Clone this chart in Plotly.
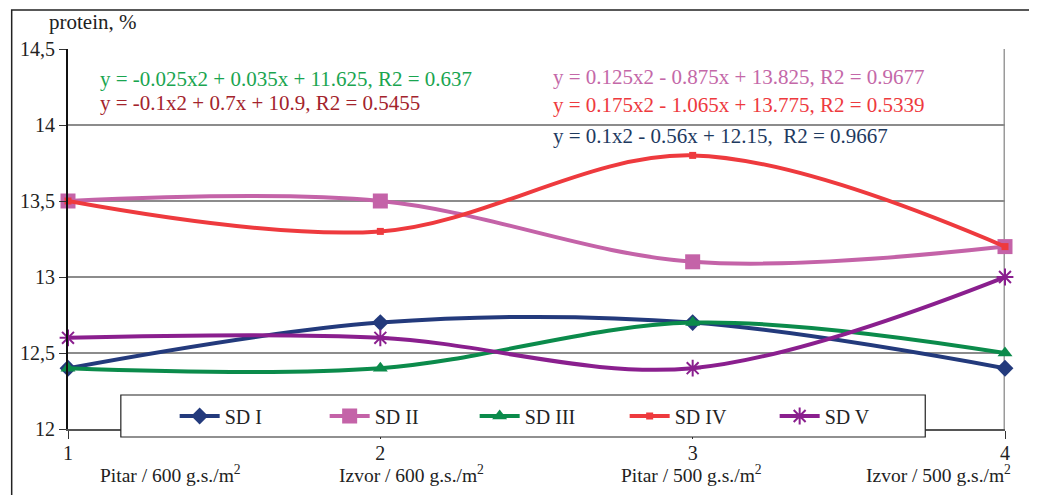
import plotly.graph_objects as go

x_vals = [1, 2, 3, 4]
series_names = ["SD I", "SD II", "SD III", "SD IV", "SD V"]
sd1 = [12.4, 12.7, 12.7, 12.4]
sd2 = [13.5, 13.5, 13.1, 13.2]
sd3 = [12.4, 12.4, 12.7, 12.5]
sd4 = [13.5, 13.3, 13.8, 13.2]
sd5 = [12.6, 12.6, 12.4, 13.0]
category_labels = ["Pitar / 600 g.s./m<sup>2</sup>", "Izvor / 600 g.s./m<sup>2</sup>",
                   "Pitar / 500 g.s./m<sup>2</sup>", "Izvor / 500 g.s./m<sup>2</sup>"]
y_ticks = [12, 12.5, 13, 13.5, 14, 14.5]
y_tick_text = ["12", "12,5", "13", "13,5", "14", "14,5"]
equations = [
    "y = -0.025x2 + 0.035x + 11.625, R2 = 0.637",
    "y = -0.1x2 + 0.7x + 10.9, R2 = 0.5455",
    "y = 0.125x2 - 0.875x + 13.825, R2 = 0.9677",
    "y = 0.175x2 - 1.065x + 13.775, R2 = 0.5339",
    "y = 0.1x2 - 0.56x + 12.15,  R2 = 0.9667",
]

FONT = "Liberation Serif, Times New Roman, DejaVu Serif, serif"
colors = ["#233a7c", "#c463a8", "#0b8b4b", "#ee3a3e", "#8a1f8e"]
symbols = ["diamond", "square", "triangle-up", "square", "asterisk-open"]
sizes = [13, 15, 13, 7, 14]
data = [sd1, sd2, sd3, sd4, sd5]

# page offset: the figure is drawn 8px from the window's top-left
OFF = 8
W, H = 1037 - OFF, 495 - OFF
PL, PR, PT, PB = 65, 1005, 49, 429  # plot area in window pixels


def px(xp):
    return (xp - PL) / (PR - PL)


def py(yp):
    return (PB - yp) / (PB - PT)


fig = go.Figure()
for name, ys, c, s, sz in zip(series_names, data, colors, symbols, sizes):
    marker = dict(symbol=s, size=sz, color=c)
    if s == "asterisk-open":
        marker["line"] = dict(color=c, width=2)
    fig.add_trace(go.Scatter(
        x=x_vals, y=ys, name=name, mode="lines+markers",
        line=dict(color=c, width=4, shape="spline", smoothing=1.0),
        marker=marker, cliponaxis=False,
    ))

fig.update_layout(
    width=W, height=H,
    margin=dict(l=PL - OFF, r=1037 - PR, t=PT - OFF, b=495 - PB),
    paper_bgcolor="white", plot_bgcolor="white",
    font=dict(family=FONT, size=17, color="#222"),
    showlegend=True,
    legend=dict(orientation="h", x=px(172), xanchor="left", y=py(416), yanchor="middle",
                bgcolor="rgba(0,0,0,0)", borderwidth=0,
                font=dict(family=FONT, size=20, color="#222"),
                entrywidth=95, entrywidthmode="pixels", itemwidth=40),
    xaxis=dict(range=[1, 4], tickvals=x_vals, ticktext=[str(v) for v in x_vals],
               showgrid=False, zeroline=False, showline=True, linecolor="#555", linewidth=2,
               ticks="outside", ticklen=8, tickcolor="#333", ticklabelstandoff=-3,
               tickfont=dict(size=20, family=FONT, color="#222")),
    yaxis=dict(range=[12, 14.5], tickvals=y_ticks, ticktext=y_tick_text,
               showgrid=True, gridcolor="#8c8c8c", gridwidth=2, zeroline=False,
               showline=True, linecolor="#111", linewidth=2,
               ticks="outside", ticklen=7, tickcolor="#333",
               tickfont=dict(size=20, family=FONT, color="#222")),
)

# outer frame
fig.add_shape(type="rect", xref="paper", yref="paper",
              x0=px(8.5), x1=px(1100), y0=py(560), y1=py(10),
              line=dict(color="#222", width=1.5), fillcolor="rgba(0,0,0,0)", layer="below")
# right border of plot area
fig.add_shape(type="line", xref="x", yref="y", x0=4, x1=4, y0=12, y1=14.5,
              line=dict(color="#9a9a9a", width=3), layer="below")
# legend box
fig.add_shape(type="rect", xref="paper", yref="paper",
              x0=px(118), x1=px(925), y0=py(437), y1=py(395),
              line=dict(color="#222", width=1.2), fillcolor="white", layer="above")

# y axis title
fig.add_annotation(text="protein, %", xref="paper", yref="paper", x=px(44), y=py(22),
                   xanchor="left", yanchor="middle", showarrow=False,
                   font=dict(family=FONT, size=21, color="#222"))

# category labels under x ticks
label_centers = [168, 410, 690, 938]
for lab, cx in zip(category_labels, label_centers):
    fig.add_annotation(text=lab, x=px(cx), xref="paper", y=py(474), yref="paper",
                       showarrow=False, xanchor="center", yanchor="middle",
                       font=dict(family=FONT, size=19.5, color="#222"))

# trendline equations
eq_colors = ["#1aa550", "#a3232c", "#c468a8", "#ee3a3e", "#1e3a5f"]
eq_pos = [(95, 79), (95, 103), (550, 77), (550, 105), (550, 136)]
for txt, c, (xp, yp) in zip(equations, eq_colors, eq_pos):
    fig.add_annotation(text=txt, xref="paper", yref="paper", x=px(xp), y=py(yp),
                       xanchor="left", yanchor="middle", showarrow=False,
                       font=dict(family=FONT, size=21, color=c))

fig.write_html("out.html")
